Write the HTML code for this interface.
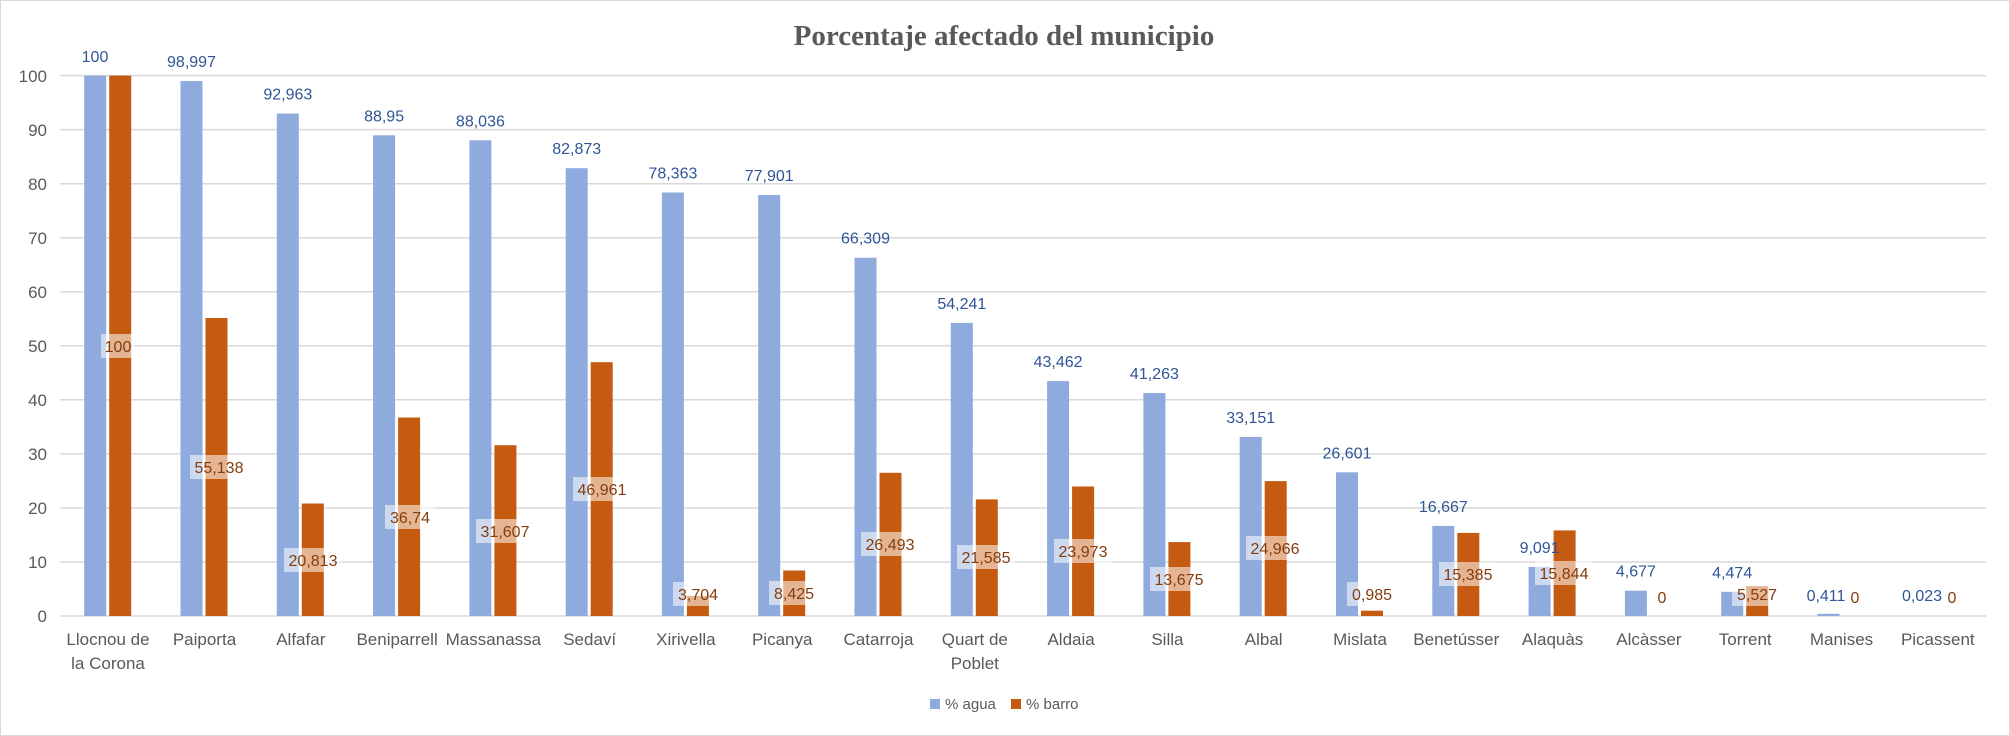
<!DOCTYPE html>
<html><head><meta charset="utf-8"><style>
html,body{margin:0;padding:0;background:#fff}
svg{display:block;font-family:"Liberation Sans",sans-serif}
.yl{font-size:17px;fill:#595959;text-anchor:end}
.xl{font-size:17px;fill:#595959;text-anchor:middle}
.bl{font-size:16px;fill:#2f5597;text-anchor:middle}
.ol{font-size:16px;fill:#843c0c;text-anchor:middle}
.b{fill:#8faadc}.o{fill:#c55a11}
.bx{fill:#fff;fill-opacity:0.55}
</style></head><body>
<svg width="2010" height="736" viewBox="0 0 2010 736">
<rect x="0.5" y="0.5" width="2009" height="735" fill="#fff" stroke="#d9d9d9"/>
<text x="1004" y="45" text-anchor="middle" style="font-family:'Liberation Serif',serif;font-weight:bold;font-size:29px;fill:#595959">Porcentaje afectado del municipio</text>
<g stroke="#d9d9d9" stroke-width="1.5">
<line x1="60" x2="1986" y1="75.6" y2="75.6"/><line x1="60" x2="1986" y1="129.6" y2="129.6"/><line x1="60" x2="1986" y1="183.7" y2="183.7"/><line x1="60" x2="1986" y1="237.7" y2="237.7"/><line x1="60" x2="1986" y1="291.8" y2="291.8"/><line x1="60" x2="1986" y1="345.8" y2="345.8"/><line x1="60" x2="1986" y1="399.8" y2="399.8"/><line x1="60" x2="1986" y1="453.9" y2="453.9"/><line x1="60" x2="1986" y1="507.9" y2="507.9"/><line x1="60" x2="1986" y1="562" y2="562"/><line x1="60" x2="1986" y1="616" y2="616"/>
</g>
<g class="yl">
<text x="47" y="82">100</text><text x="47" y="136">90</text><text x="47" y="190">80</text><text x="47" y="244">70</text><text x="47" y="298">60</text><text x="47" y="352">50</text><text x="47" y="406">40</text><text x="47" y="460">30</text><text x="47" y="514">20</text><text x="47" y="568">10</text><text x="47" y="622">0</text>
</g>
<g class="b">
<rect x="84.2" y="75.6" width="22" height="540.4"/>
<rect x="180.5" y="81" width="22" height="535"/>
<rect x="276.8" y="113.6" width="22" height="502.4"/>
<rect x="373.1" y="135.3" width="22" height="480.7"/>
<rect x="469.4" y="140.3" width="22" height="475.7"/>
<rect x="565.7" y="168.2" width="22" height="447.8"/>
<rect x="661.9" y="192.5" width="22" height="423.5"/>
<rect x="758.2" y="195" width="22" height="421"/>
<rect x="854.5" y="257.7" width="22" height="358.3"/>
<rect x="950.8" y="322.9" width="22" height="293.1"/>
<rect x="1047.1" y="381.1" width="22" height="234.9"/>
<rect x="1143.4" y="393" width="22" height="223"/>
<rect x="1239.7" y="436.9" width="22" height="179.1"/>
<rect x="1336" y="472.3" width="22" height="143.7"/>
<rect x="1432.3" y="525.9" width="22" height="90.1"/>
<rect x="1528.6" y="566.9" width="22" height="49.1"/>
<rect x="1624.9" y="590.7" width="22" height="25.3"/>
<rect x="1721.2" y="591.8" width="22" height="24.2"/>
<rect x="1817.5" y="613.8" width="22" height="2.2"/>
</g>
<g class="o">
<rect x="109.2" y="75.6" width="22" height="540.4"/>
<rect x="205.5" y="318" width="22" height="298"/>
<rect x="301.8" y="503.5" width="22" height="112.5"/>
<rect x="398.1" y="417.5" width="22" height="198.5"/>
<rect x="494.4" y="445.2" width="22" height="170.8"/>
<rect x="590.7" y="362.2" width="22" height="253.8"/>
<rect x="686.9" y="596" width="22" height="20"/>
<rect x="783.2" y="570.5" width="22" height="45.5"/>
<rect x="879.5" y="472.8" width="22" height="143.2"/>
<rect x="975.8" y="499.4" width="22" height="116.6"/>
<rect x="1072.1" y="486.5" width="22" height="129.5"/>
<rect x="1168.4" y="542.1" width="22" height="73.9"/>
<rect x="1264.7" y="481.1" width="22" height="134.9"/>
<rect x="1361" y="610.7" width="22" height="5.3"/>
<rect x="1457.3" y="532.9" width="22" height="83.1"/>
<rect x="1553.6" y="530.4" width="22" height="85.6"/>
<rect x="1746.2" y="586.1" width="22" height="29.9"/>
</g>
<g class="bl">
<text x="95" y="62">100</text>
<text x="191.5" y="67">98,997</text>
<text x="287.8" y="99.6">92,963</text>
<text x="384.1" y="121.3">88,95</text>
<text x="480.4" y="126.3">88,036</text>
<text x="576.7" y="154.2">82,873</text>
<text x="672.9" y="178.5">78,363</text>
<text x="769.2" y="181">77,901</text>
<text x="865.5" y="243.7">66,309</text>
<text x="961.8" y="308.9">54,241</text>
<text x="1058.1" y="367.1">43,462</text>
<text x="1154.4" y="379">41,263</text>
<text x="1250.7" y="422.9">33,151</text>
<text x="1347" y="458.3">26,601</text>
<text x="1443.3" y="511.9">16,667</text>
<text x="1539.6" y="552.9">9,091</text>
<text x="1635.9" y="576.7">4,677</text>
<text x="1732.2" y="577.8">4,474</text>
<text x="1826" y="601">0,411</text>
<text x="1922" y="601">0,023</text>
</g>
<g class="bx">
<rect x="101" y="334" width="34" height="24"/>
<rect x="190" y="455" width="58" height="24"/>
<rect x="284" y="548" width="58" height="24"/>
<rect x="385" y="505" width="50" height="24"/>
<rect x="476" y="519" width="58" height="24"/>
<rect x="573" y="477" width="58" height="24"/>
<rect x="673" y="582" width="50" height="24"/>
<rect x="769" y="581" width="50" height="24"/>
<rect x="861" y="532" width="58" height="24"/>
<rect x="957" y="545" width="58" height="24"/>
<rect x="1054" y="539" width="58" height="24"/>
<rect x="1150" y="567" width="58" height="24"/>
<rect x="1246" y="536" width="58" height="24"/>
<rect x="1347" y="582" width="50" height="24"/>
<rect x="1439" y="562" width="58" height="24"/>
<rect x="1535" y="561" width="58" height="24"/>
<rect x="1732" y="582" width="50" height="24"/>
</g>
<g class="ol">
<text x="118" y="352">100</text>
<text x="219" y="473">55,138</text>
<text x="313" y="566">20,813</text>
<text x="410" y="523">36,74</text>
<text x="505" y="537">31,607</text>
<text x="602" y="495">46,961</text>
<text x="698" y="600">3,704</text>
<text x="794" y="599">8,425</text>
<text x="890" y="550">26,493</text>
<text x="986" y="563">21,585</text>
<text x="1083" y="557">23,973</text>
<text x="1179" y="585">13,675</text>
<text x="1275" y="554">24,966</text>
<text x="1372" y="600">0,985</text>
<text x="1468" y="580">15,385</text>
<text x="1564" y="579">15,844</text>
<text x="1662" y="603">0</text>
<text x="1757" y="600">5,527</text>
<text x="1855" y="603">0</text>
<text x="1952" y="603">0</text>
</g>
<g class="xl">
<text x="108" y="645">Llocnou de</text><text x="108" y="669">la Corona</text>
<text x="204.5" y="645">Paiporta</text>
<text x="300.8" y="645">Alfafar</text>
<text x="397.1" y="645">Beniparrell</text>
<text x="493.4" y="645">Massanassa</text>
<text x="589.7" y="645">Sedaví</text>
<text x="685.9" y="645">Xirivella</text>
<text x="782.2" y="645">Picanya</text>
<text x="878.5" y="645">Catarroja</text>
<text x="974.8" y="645">Quart de</text><text x="974.8" y="669">Poblet</text>
<text x="1071.1" y="645">Aldaia</text>
<text x="1167.4" y="645">Silla</text>
<text x="1263.7" y="645">Albal</text>
<text x="1360" y="645">Mislata</text>
<text x="1456.3" y="645">Benetússer</text>
<text x="1552.6" y="645">Alaquàs</text>
<text x="1648.9" y="645">Alcàsser</text>
<text x="1745.2" y="645">Torrent</text>
<text x="1841.5" y="645">Manises</text>
<text x="1937.8" y="645">Picassent</text>
</g>
<rect x="930" y="699" width="10" height="10" class="b"/>
<text x="945" y="709" style="font-size:15px;fill:#595959">% agua</text>
<rect x="1011" y="699" width="10" height="10" class="o"/>
<text x="1026" y="709" style="font-size:15px;fill:#595959">% barro</text>
</svg>
</body></html>
